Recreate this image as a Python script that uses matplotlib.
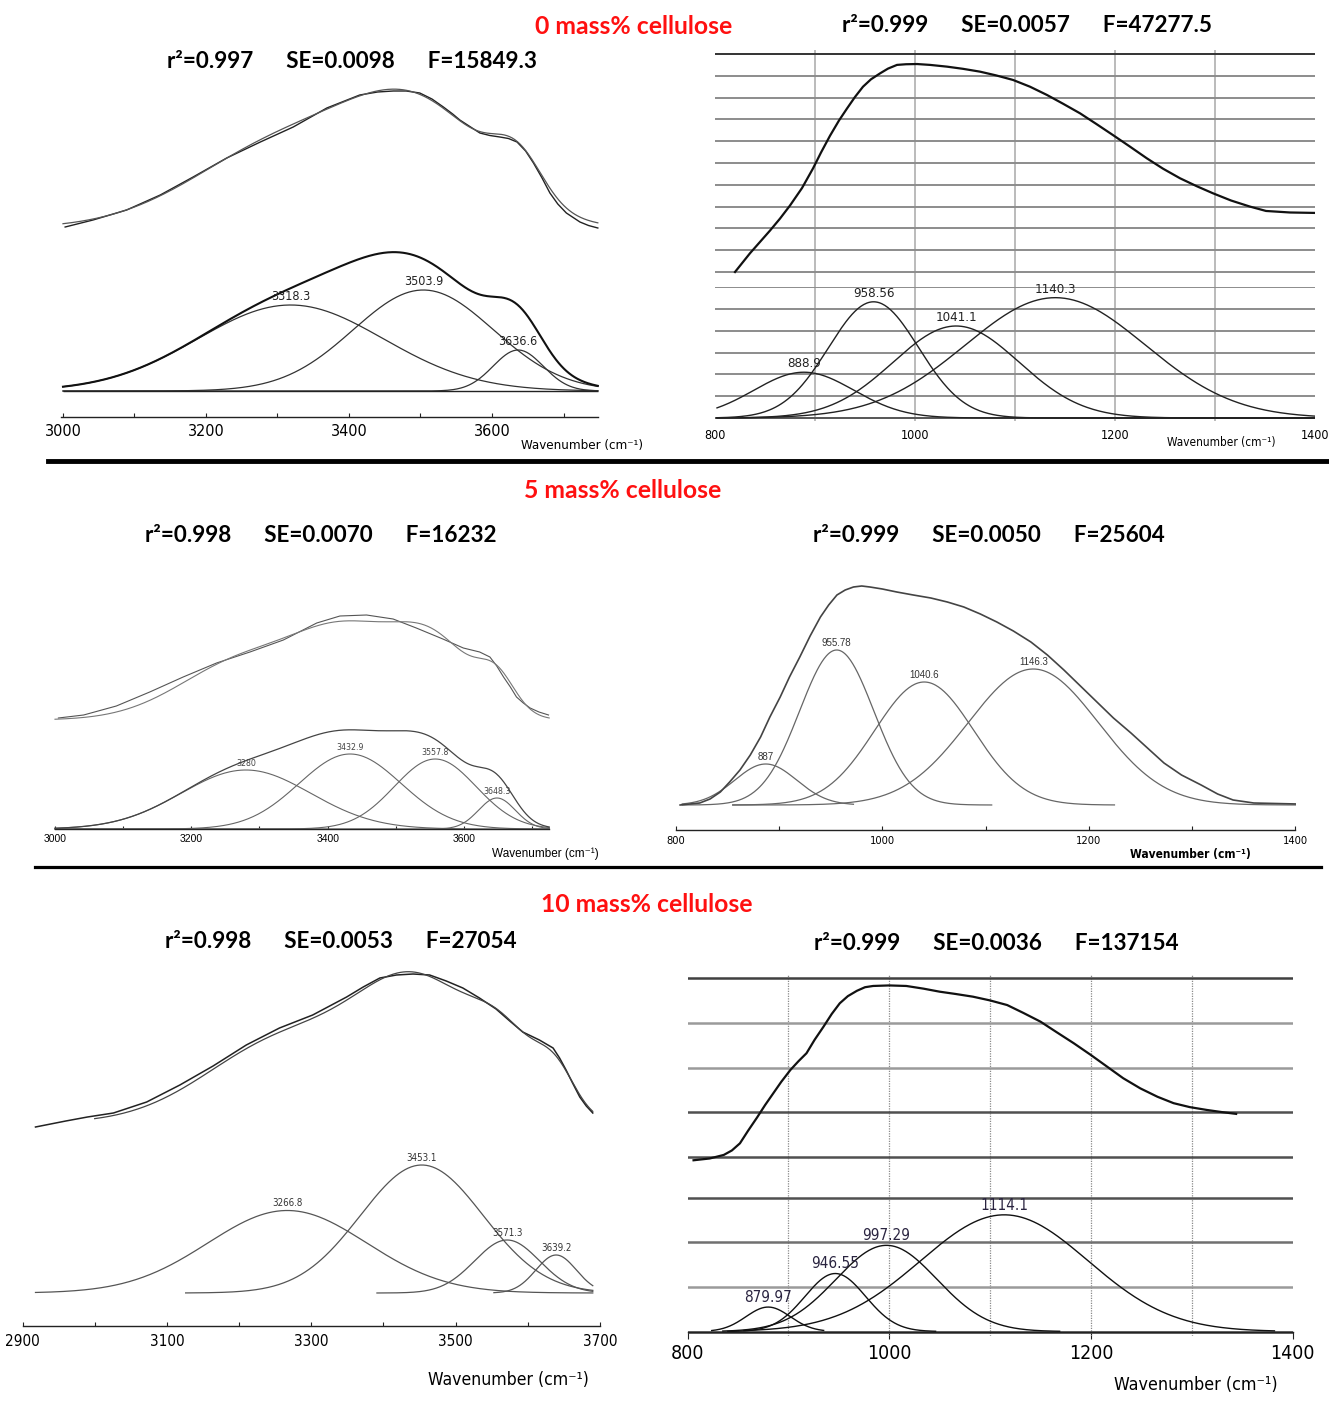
import numpy as np
import matplotlib
matplotlib.use('Agg')
import matplotlib.pyplot as plt
from matplotlib import font_manager
from matplotlib.lines import Line2D

W, H = 1329, 1404

# narrow face for the axis texts: Arial Narrow look-alike if present,
# otherwise DejaVu Sans Condensed, otherwise plain Liberation Sans
_fonts = font_manager.fontManager.ttflist
_names = {f.name for f in _fonts}
if 'Liberation Sans Narrow' in _names:
    NARROW = dict(family=['Liberation Sans Narrow', 'DejaVu Sans'], fontstretch='normal')
elif any(f.name == 'DejaVu Sans' and f.stretch == 'condensed' for f in _fonts):
    NARROW = dict(family=['DejaVu Sans'], fontstretch='condensed')
else:
    NARROW = dict(family=['Liberation Sans', 'DejaVu Sans'], fontstretch='normal')
ARIAL = dict(family=['Liberation Sans', 'DejaVu Sans'], fontstretch='normal')
HEAD_F = ['Lato', 'DejaVu Sans']

# ---------------- 0 mass% cellulose ----------------
# O-H stretching region: measured spectrum (shifted up) and fitted bands
oh0_wn = [3003, 3042, 3089, 3136, 3182, 3229, 3276, 3322, 3369, 3415, 3440, 3462, 3480,
          3499, 3516, 3532, 3545, 3555, 3583, 3597, 3611, 3623, 3635, 3647, 3658, 3670,
          3681, 3692, 3704, 3723, 3735, 3748]
oh0_abs = [1.64, 1.71, 1.81, 1.96, 2.14, 2.33, 2.49, 2.64, 2.83, 2.96, 2.99, 3.00, 3.00,
           2.98, 2.92, 2.84, 2.77, 2.71, 2.58, 2.555, 2.54, 2.525, 2.49, 2.40, 2.28, 2.13,
           1.98, 1.87, 1.78, 1.69, 1.655, 1.63]
oh0_offset = 1.63
oh0_centers = [3318.3, 3503.9, 3636.6]
oh0_heights = [0.86, 1.01, 0.41]
oh0_widths = [130, 98, 35]
oh0_stats = 'r²=0.997      SE=0.0098      F=15849.3'

# C-O region
co0_wn = [820, 835, 845, 855, 865, 875, 887, 898, 906, 915, 924, 932, 940, 948, 956, 965,
          973, 982, 991, 1002, 1015, 1032, 1048, 1065, 1081, 1098, 1115, 1132, 1148, 1165,
          1181, 1198, 1215, 1232, 1248, 1265, 1282, 1298, 1316, 1335, 1351, 1375, 1400]
co0_abs = [0.0, 0.086, 0.138, 0.19, 0.245, 0.305, 0.385, 0.475, 0.548, 0.625, 0.695, 0.75,
           0.803, 0.850, 0.884, 0.911, 0.933, 0.950, 0.953, 0.954, 0.950, 0.942, 0.932,
           0.919, 0.902, 0.881, 0.85, 0.812, 0.772, 0.728, 0.68, 0.628, 0.575, 0.521,
           0.474, 0.430, 0.393, 0.361, 0.328, 0.300, 0.280, 0.273, 0.271]
co0_centers = [888.9, 958.56, 1041.1, 1140.3]
co0_heights = [0.21, 0.533, 0.422, 0.552]
co0_widths = [50, 45, 63, 90]
co0_stats = 'r²=0.999      SE=0.0057      F=47277.5'

# ---------------- 5 mass% cellulose ----------------
oh5_wn = [3005, 3042, 3090, 3139, 3188, 3237, 3286, 3335, 3384, 3418, 3457, 3496,
          3530, 3569, 3599, 3611, 3623, 3638, 3648, 3658, 3668, 3677, 3687, 3697, 3710, 3724]
oh5_abs = [1.11, 1.14, 1.23, 1.37, 1.52, 1.66, 1.77, 1.89, 2.06, 2.13, 2.14, 2.10,
           2.01, 1.90, 1.81, 1.79, 1.77, 1.72, 1.63, 1.52, 1.42, 1.32, 1.26, 1.21, 1.17, 1.14]
oh5_offset = 1.09
oh5_centers = [3280, 3432.9, 3557.8, 3648.3]
oh5_heights = [0.59, 0.75, 0.70, 0.31]
oh5_widths = [95, 75, 60, 27]
oh5_stats = 'r²=0.998      SE=0.0070      F=16232'

co5_wn = [804, 823, 833, 843, 852, 862, 872, 882, 891, 901, 910, 920, 930, 940, 948, 956,
          964, 972, 980, 988, 1000, 1014, 1030, 1047, 1063, 1079, 1095, 1111, 1127, 1144,
          1160, 1176, 1192, 1208, 1224, 1241, 1257, 1273, 1290, 1309, 1325, 1340, 1360, 1402]
co5_abs = [0.0, 0.02, 0.06, 0.13, 0.23, 0.35, 0.50, 0.68, 0.88, 1.08, 1.28, 1.48, 1.69,
           1.88, 2.00, 2.10, 2.15, 2.18, 2.19, 2.18, 2.16, 2.13, 2.10, 2.07, 2.03, 1.98,
           1.91, 1.83, 1.74, 1.63, 1.50, 1.35, 1.19, 1.03, 0.87, 0.72, 0.57, 0.42, 0.30,
           0.20, 0.11, 0.05, 0.02, 0.01]
co5_centers = [887, 955.78, 1040.6, 1146.3]
co5_heights = [0.41, 1.55, 1.23, 1.36]
co5_widths = [30, 36, 48, 63]
co5_start = [806, 806, 855, 855]
co5_stop = [972, 1106, 1225, 1402]
co5_stats = 'r²=0.999      SE=0.0050      F=25604'

# ---------------- 10 mass% cellulose ----------------
oh10_wn = [2918, 2960, 2990, 3026, 3072, 3118, 3164, 3210, 3256, 3302, 3349, 3372, 3395,
           3418, 3441, 3464, 3487, 3510, 3533, 3556, 3575, 3593, 3616, 3635, 3644, 3653,
           3662, 3672, 3681, 3690]
oh10_abs = [1.66, 1.72, 1.76, 1.80, 1.91, 2.08, 2.27, 2.48, 2.65, 2.78, 2.96, 3.06, 3.15,
            3.18, 3.19, 3.18, 3.12, 3.05, 2.95, 2.84, 2.72, 2.61, 2.53, 2.45, 2.35, 2.23,
            2.10, 1.96, 1.87, 1.80]
oh10_offset = 1.70
oh10_centers = [3266.8, 3453.1, 3571.3, 3639.2]
oh10_heights = [0.825, 1.28, 0.53, 0.38]
oh10_widths = [110, 85, 45, 28]
oh10_start = [2918, 3126, 3391, 3553]
oh10_stop = [3690, 3690, 3690, 3690]
oh10_stats = 'r²=0.998      SE=0.0053      F=27054'

co10_wn = [806, 822, 836, 844, 852, 860, 869, 877, 885, 893, 902, 910, 918, 926, 935, 943,
           951, 959, 968, 976, 984, 1000, 1017, 1034, 1050, 1066, 1083, 1100, 1117, 1133,
           1150, 1166, 1183, 1200, 1216, 1232, 1249, 1266, 1282, 1298, 1315, 1330, 1344]
co10_abs = [-0.02, -0.01, 0.01, 0.035, 0.075, 0.145, 0.22, 0.29, 0.355, 0.42, 0.486,
            0.535, 0.58, 0.655, 0.73, 0.80, 0.86, 0.90, 0.93, 0.95, 0.957, 0.96, 0.957,
            0.942, 0.925, 0.912, 0.897, 0.876, 0.85, 0.806, 0.757, 0.698, 0.636, 0.57,
            0.505, 0.44, 0.383, 0.336, 0.30, 0.278, 0.262, 0.25, 0.24]
co10_centers = [879.97, 946.55, 997.29, 1114.1]
co10_heights = [0.137, 0.325, 0.483, 0.654]
co10_widths = [22, 30, 50, 83]
co10_start = [824, 840, 835, 856]
co10_stop = [935, 1046, 1169, 1382]
co10_stats = 'r²=0.999      SE=0.0036      F=137154'

WN_LABEL = 'Wavenumber (cm⁻¹)'


def gauss(x, c, h, w):
    return h * np.exp(-0.5 * ((x - c) / w) ** 2)


fig = plt.figure(figsize=(W / 100, H / 100), dpi=100)


def ptext(x, y, s, **kw):
    return fig.text(x / W, 1 - y / H, s, **kw)


def panel(left, top, right, bottom, xcal, base, scale):
    # axes placed in pixel units; xcal = (wn_a, px_a, wn_b, px_b)
    wa, pa, wb, pb = xcal
    k = (wb - wa) / (pb - pa)
    ax = fig.add_axes([left / W, 1 - bottom / H, (right - left) / W, (bottom - top) / H])
    ax.set_xlim(wa + (left - pa) * k, wa + (right - pa) * k)
    ax.set_ylim((base - bottom) / scale, (base - top) / scale)
    ax.patch.set_visible(False)
    for s in ax.spines.values():
        s.set_visible(False)
    ax.set_xticks([])
    ax.set_yticks([])
    return ax


def style_ticklabels(ax, font, weight='normal'):
    for t in ax.get_xticklabels():
        t.set_fontfamily(font['family'])
        t.set_fontstretch(font['fontstretch'])
        t.set_fontweight(weight)


def x_axis(ax, y, majors, minors, size, font, pad, bounds, direction='in', length=3):
    sp = ax.spines['bottom']
    sp.set_visible(True)
    sp.set_position(('data', y))
    sp.set_bounds(*bounds)
    sp.set_linewidth(1.0)
    sp.set_color('#222')
    ax.set_xticks(majors)
    ax.set_xticks(minors, minor=True)
    ax.tick_params(axis='x', which='both', direction=direction, length=length,
                   width=0.8, pad=pad, labelsize=size, color='#222')
    style_ticklabels(ax, font)


def components(ax, centers, heights, widths, starts, stops, color, lw,
               fs, font, lcolor='#222'):
    total_x = np.linspace(min(starts), max(stops), 600)
    total = np.zeros_like(total_x)
    for c, h, w, a, b in zip(centers, heights, widths, starts, stops):
        x = np.linspace(a, b, 400)
        ax.plot(x, gauss(x, c, h, w), color=color, lw=lw)
        total += gauss(total_x, c, h, w)
        ax.annotate(f'{c:g}', (c, h), xytext=(0, 1.5), textcoords='offset points',
                    ha='center', va='bottom', fontsize=fs, color=lcolor, **font)
    return total_x, total


def grid_style(ax, ycolors, lw_h, vcolor, lw_v, vstyle='-'):
    ax.grid(True, axis='x', which='minor', color=vcolor, lw=lw_v, linestyle=vstyle)
    ax.grid(True, axis='y', which='major', lw=lw_h)
    for g, c in zip(ax.get_ygridlines(), ycolors):
        g.set_color(c)
    ax.tick_params(which='both', length=0, labelleft=False)


# ---------- titles ----------
title_kw = dict(color='#ff1010', fontsize=17.8, weight='bold', family=HEAD_F,
                ha='center', va='center')
stat_kw = dict(color='black', fontsize=16.2, weight='bold', family=HEAD_F,
               ha='center', va='center')
ptext(634, 26, '0 mass% cellulose', **title_kw)
ptext(623, 491, '5 mass% cellulose', **title_kw)
ptext(647, 905, '10 mass% cellulose', **title_kw)
ptext(352, 62, oh0_stats, **stat_kw)
ptext(1027, 26, co0_stats, **stat_kw)
ptext(321, 536, oh5_stats, **stat_kw)
ptext(989, 536, co5_stats, **stat_kw)
ptext(341, 941, oh10_stats, **stat_kw)
ptext(996, 943, co10_stats, **stat_kw)

# separators between the three samples
fig.add_artist(Line2D([48 / W, 1.0], [1 - 461 / H, 1 - 461 / H], color='black', lw=3.5))
fig.add_artist(Line2D([35 / W, 1321 / W], [1 - 867 / H, 1 - 867 / H], color='black', lw=2.3))

# ---------- 0 mass%, O-H ----------
ax = panel(45, 70, 602, 440, (3000, 63, 3600, 492), 391, 100)
n = len(oh0_centers)
fx, fit = components(ax, oh0_centers, oh0_heights, oh0_widths, [3000] * n, [3748] * n,
                     '#333', 0.9, 9, NARROW)
ax.plot(oh0_wn, oh0_abs, color='#222', lw=1.0)
ax.plot(fx, fit + oh0_offset, color='#555', lw=0.9)
ax.plot(fx, fit, color='#111', lw=1.5)
ax.hlines(0, fx[0], fx[-1], color='#222', lw=1.0)
x_axis(ax, -0.26, [3000, 3200, 3400, 3600], [3100, 3300, 3500, 3700], 11.5, NARROW,
       5, (2997, 3748))
ptext(582, 445, WN_LABEL, ha='center', va='center', fontsize=9.5, **NARROW)

# ---------- 0 mass%, C-O (gridded) ----------
xcal = (800, 715, 1400, 1315)
up = panel(715, 50, 1315, 287, xcal, 272, 218)
up.set_yticks(np.arange(0, 1.01, 0.1))
up.set_xticks([900, 1000, 1100, 1200, 1300], minor=True)
grid_style(up, ['#8c8c8c'] * 10 + ['#333333'], 1.4, '#a8a8a8', 1.1)
up.tick_params(labelbottom=False)
up.plot(co0_wn, co0_abs, color='#111', lw=1.6)

lo = panel(715, 287, 1315, 421, xcal, 418, 218)
lo.set_yticks(np.arange(0, 0.61, 0.1))
lo.set_xticks([800, 1000, 1200, 1400])
lo.set_xticks([900, 1000, 1100, 1200, 1300], minor=True)
lo.xaxis.remove_overlapping_locs = False
grid_style(lo, ['#555555'] + ['#8c8c8c'] * 6, 1.4, '#a8a8a8', 1.1)
lo.tick_params(axis='x', labelsize=9, pad=6)
style_ticklabels(lo, NARROW)
n = len(co0_centers)
components(lo, co0_centers, co0_heights, co0_widths, [802] * n, [1400] * n,
           '#222', 1.0, 9.5, NARROW)
ptext(1221, 442, WN_LABEL, ha='center', va='center', fontsize=8.5, **NARROW)

# ---------- 5 mass%, O-H ----------
ax = panel(50, 590, 552, 845, (3000, 55, 3600, 464), 829, 100)
n = len(oh5_centers)
fx, fit = components(ax, oh5_centers, oh5_heights, oh5_widths, [3000] * n, [3725] * n,
                     '#666', 0.8, 6.3, NARROW, '#444')
ax.plot(oh5_wn, oh5_abs, color='#555', lw=0.8)
ax.plot(fx, fit + oh5_offset, color='#777', lw=0.8)
ax.plot(fx, fit, color='#444', lw=0.9)
x_axis(ax, 0, [3000, 3200, 3400, 3600], [3100, 3300, 3500, 3700], 7.5, ARIAL,
       3.5, (3000, 3725), length=2)
ptext(545, 854, WN_LABEL, ha='center', va='center', fontsize=8.5, **ARIAL)

# ---------- 5 mass%, C-O ----------
ax = panel(676, 570, 1296, 840, (800, 676, 1400, 1295), 805, 100)
components(ax, co5_centers, co5_heights, co5_widths, co5_start, co5_stop,
           '#666', 0.9, 7, ARIAL, '#333')
ax.plot(co5_wn, co5_abs, color='#444', lw=1.2)
x_axis(ax, -0.25, [800, 1000, 1200, 1400], [900, 1100, 1300], 8, NARROW,
       4, (800, 1400), length=3)
ptext(1190, 855, WN_LABEL, ha='center', va='center', fontsize=8.6, weight='bold',
      **NARROW)

# ---------- 10 mass%, O-H ----------
ax = panel(18, 950, 605, 1335, (2900, 22.5, 3700, 600), 1293, 100)
components(ax, oh10_centers, oh10_heights, oh10_widths, oh10_start, oh10_stop,
           '#555', 0.9, 7, NARROW, '#333')
fx = np.linspace(3000, max(oh10_stop), 500)
fit = sum(gauss(fx, c, h, w) for c, h, w in zip(oh10_centers, oh10_heights, oh10_widths))
ax.plot(oh10_wn, oh10_abs, color='#222', lw=1.1)
ax.plot(fx, fit + oh10_offset, color='#444', lw=0.9)
x_axis(ax, -0.33, [2900, 3100, 3300, 3500, 3700], [3000, 3200, 3400, 3600], 11,
       NARROW, 6, (2900, 3700), length=3)
ptext(508, 1380, WN_LABEL, ha='center', va='center', fontsize=12.6, **NARROW)

# ---------- 10 mass%, C-O (gridded) ----------
xcal = (800, 687.5, 1400, 1292.6)
up = panel(687.5, 975, 1292.6, 1194, xcal, 1156.7, 178.4)
up.set_yticks([0, 0.25, 0.5, 0.75, 1.0])
up.set_xticks([900, 1000, 1100, 1200, 1300], minor=True)
grid_style(up, ['#505050', '#505050', '#9a9a9a', '#9a9a9a', '#404040'], 1.8,
           '#8a8a8a', 0.9, (0, (1, 1)))
up.tick_params(labelbottom=False)
up.plot(co10_wn, co10_abs, color='#111', lw=1.6)

lo = panel(687.5, 1194, 1292.6, 1336, xcal, 1331.5, 178.4)
lo.set_yticks([0, 0.25, 0.5, 0.75])
lo.set_xticks([900, 1000, 1100, 1200, 1300], minor=True)
lo.xaxis.remove_overlapping_locs = False
grid_style(lo, ['#404040', '#9a9a9a', '#707070', '#505050'], 1.8,
           '#8a8a8a', 0.9, (0, (1, 1)))
x_axis(lo, 0, [800, 1000, 1200, 1400], [900, 1000, 1100, 1200, 1300], 14, NARROW,
       4, (800, 1400), direction='out', length=5)
lo.tick_params(axis='x', which='minor', length=0)
components(lo, co10_centers, co10_heights, co10_widths, co10_start, co10_stop,
           '#111', 1.0, 11, NARROW, '#2a2440')
ptext(1196, 1385, WN_LABEL, ha='center', va='center', fontsize=12.8, **NARROW)

fig.savefig('out.png', dpi=100)
